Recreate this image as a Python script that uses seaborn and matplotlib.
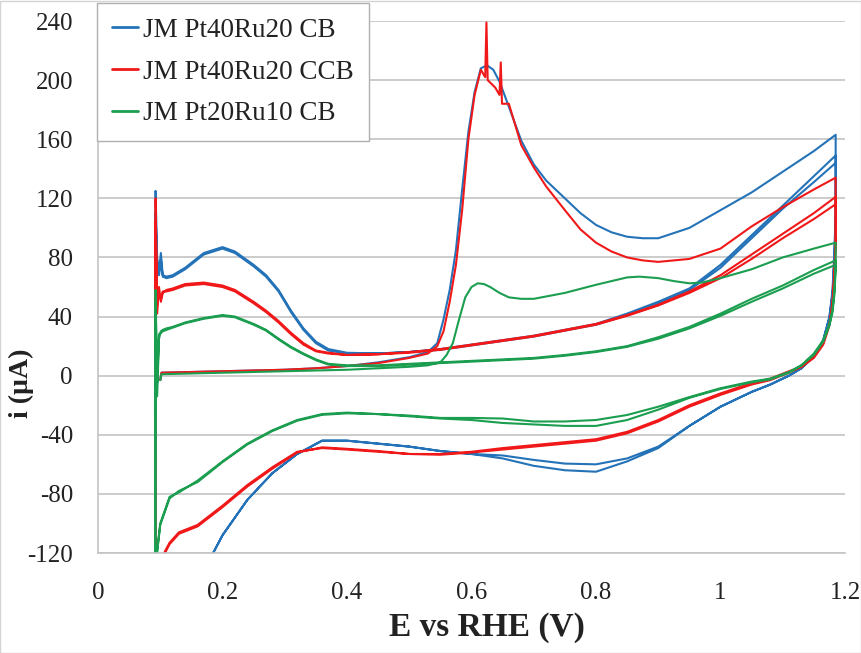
import numpy as np
import pandas as pd
import matplotlib
matplotlib.use("Agg")
import matplotlib.pyplot as plt
import seaborn as sns
from matplotlib.patches import Rectangle

# ---------------- data ----------------
series_names = ["JM Pt40Ru20 CB", "JM Pt40Ru20 CCB", "JM Pt20Ru10 CB"]
series_colors = ["#2473b8", "#f01818", "#1c9e50"]

# first anodic scan (CO stripping)
blue_co_E = [0.1, 0.102, 0.15, 0.2, 0.25, 0.3, 0.35, 0.4, 0.45, 0.5, 0.53, 0.545, 0.555, 0.565, 0.575,
             0.585, 0.595, 0.605, 0.615, 0.625, 0.635, 0.645, 0.66, 0.68, 0.7, 0.72, 0.75, 0.775, 0.8,
             0.825, 0.85, 0.875, 0.9, 0.95, 1.0, 1.05, 1.1, 1.15, 1.185]
blue_co_i = [-3, 2, 2.5, 3, 3.5, 4, 5, 6.5, 9, 12.5, 16, 22, 38, 58, 85, 126, 165, 192, 208, 210, 207,
             199, 182, 159, 143, 132, 120, 110, 102, 97, 94, 93, 93, 100, 112, 124, 138, 152, 163]

red_co_E = [0.1, 0.102, 0.15, 0.2, 0.25, 0.3, 0.35, 0.4, 0.45, 0.5, 0.53, 0.545, 0.555, 0.565, 0.575,
            0.585, 0.595, 0.605, 0.615, 0.622, 0.624, 0.626, 0.638, 0.645, 0.647, 0.649, 0.66, 0.68,
            0.7, 0.72, 0.75, 0.775, 0.8, 0.825, 0.85, 0.875, 0.9, 0.95, 1.0, 1.05, 1.1, 1.15, 1.185]
red_co_i = [-3, 2, 2.5, 3, 3.5, 4, 5, 6.5, 8.5, 12, 15, 20, 30, 50, 75, 112, 160, 190, 207, 202, 239,
            200, 195, 190, 212, 184, 184, 156, 141, 128, 112, 99, 90, 84, 80, 78, 77, 79, 86, 101, 114,
            126, 134]

green_co_E = [0.1, 0.102, 0.15, 0.2, 0.3, 0.4, 0.45, 0.5, 0.53, 0.55, 0.56, 0.57, 0.58, 0.59, 0.6,
              0.61, 0.62, 0.63, 0.645, 0.66, 0.68, 0.7, 0.75, 0.8, 0.85, 0.87, 0.9, 0.925, 0.95, 0.97,
              1.0, 1.05, 1.1, 1.15, 1.185]
green_co_i = [-3, 1, 1.5, 2, 3, 4, 5, 6, 7, 9, 14, 22, 38, 53, 60, 62.5, 62, 60, 56, 53, 52, 52, 56,
              61.5, 66.5, 67, 66, 64, 62.5, 63, 66, 72, 80, 86, 90]

# cathodic (reverse) scans
rev_E = [1.185, 1.183, 1.18, 1.175, 1.165, 1.15, 1.13, 1.11, 1.08, 1.05, 1.0, 0.95, 0.9, 0.85, 0.8,
         0.75, 0.7, 0.65, 0.6, 0.55, 0.5, 0.45, 0.4, 0.36, 0.32, 0.28, 0.24, 0.2, 0.16, 0.13, 0.115,
         0.1, 0.092]
blue_rev1_i = [110, 85, 58, 40, 24, 13, 5, 0, -6, -11, -21, -34, -49, -58, -65, -64, -61, -56, -53,
               -51, -48, -46, -44, -44, -53, -66, -84, -108, -140, -160, -170, -180, -185]
blue_rev2_i = [105, 80, 55, 39, 24, 13, 5, 0, -6, -11, -21, -34, -48, -56, -60, -59.5, -57, -54, -53,
               -51, -48, -46, -44, -44, -53, -66, -84, -108, -140, -160, -170, -180, -185]
red_rev1_i = [90, 70, 50, 35, 22, 13, 6, 3, -2, -5, -12, -20, -30, -38, -43, -45, -47, -49, -51.5,
              -53, -53, -51.5, -50, -49, -51.5, -62, -74, -88, -101, -106, -113, -125, -130]
red_rev2_i = [88, 68, 48, 34, 21, 12, 6, 2, -3, -6, -13, -21, -31, -39, -44, -46, -48, -50, -52,
              -53.5, -53, -51, -49.5, -48.5, -52, -63, -75, -89, -102, -107, -114, -126, -130]
green_rev1_i = [75, 58, 45, 35, 24, 15, 7, 2.5, -2, -4, -8.5, -14.5, -21, -26.6, -30, -31, -31, -29,
                -28.6, -28.6, -27, -26, -25, -26, -30, -37, -46, -58, -71, -79, -82, -100, -130]
green_rev2_i = [72, 55, 43, 34, 23, 14, 7, 2, -2.5, -4.5, -9, -15, -23, -30, -34, -34, -33, -32, -30,
                -29, -27.5, -26, -25.5, -26.5, -30.5, -37.5, -46.5, -58.5, -72, -78, -83, -101, -130]

# later anodic scans (CO-free surface)
fwd_E = [0.092, 0.0925, 0.095, 0.098, 0.101, 0.104, 0.11, 0.12, 0.14, 0.17, 0.2, 0.22, 0.25, 0.27,
         0.29, 0.31, 0.33, 0.35, 0.37, 0.4, 0.45, 0.5, 0.55, 0.6, 0.65, 0.7, 0.75, 0.8, 0.85, 0.9, 0.95,
         1.0, 1.05, 1.1, 1.15, 1.185]
blue_fwd2_i = [-185, 125, 80, 70, 83, 68, 67, 68, 73, 83, 87, 84, 75, 68, 58, 44, 32, 23, 18, 15.5,
               15, 16, 18, 21, 24, 27, 31, 35, 42, 50, 59, 75, 95, 115, 135, 149]
blue_fwd3_i = [-185, 110, 75, 68, 78, 67, 66, 67, 72, 82, 86, 83, 74, 67, 57, 43, 31, 22, 17, 15, 15,
               16, 17.5, 20.5, 23.5, 26.5, 30.5, 34.5, 41, 49, 58, 73, 93, 113, 131, 144]
red_fwd2_i = [-130, 120, 42, 60, 50, 56, 58, 59, 62, 63, 61, 58, 50, 44, 37, 29, 22, 17, 15.5, 14,
              14.5, 16, 18, 21, 24, 27, 31, 35, 41, 48, 57, 68, 82, 96, 110, 121]
red_fwd3_i = [-130, 105, 48, 55, 52, 57, 57, 58, 61, 62, 60, 57, 49, 43, 36, 28, 21, 16.5, 15, 14,
              14.5, 15.5, 17.5, 20.5, 23.5, 26.5, 30.5, 34.5, 40.5, 47.5, 56, 66, 79, 93, 106, 116]
green_fwd2_i = [-130, 58, -14, 25, 30, 31, 32, 33, 36, 39, 41, 40, 35, 31, 25, 19.5, 15, 11, 8, 7, 7,
                8, 9, 10, 11, 12, 14, 16.5, 20, 26, 33, 42, 52, 61, 71.5, 78]
green_fwd3_i = [-130, 50, -5, 28, 29, 30, 31, 32.5, 35.5, 38.5, 40.5, 39.5, 34.5, 30.5, 24.5, 19,
                14.5, 10.5, 7.5, 6.5, 6.5, 7.5, 8.5, 9.5, 10.5, 11.5, 13.5, 16, 19.5, 25, 32, 40.5, 50,
                59, 69, 75]

x_ticks = [0, 0.2, 0.4, 0.6, 0.8, 1.0, 1.2]
x_tick_labels = ["0", "0.2", "0.4", "0.6", "0.8", "1", "1.2"]
y_ticks = [-120, -80, -40, 0, 40, 80, 120, 160, 200, 240]

# ---------------- build table ----------------
def series_frame(name, co_E, co_i, rev1, fwd2, rev2, fwd3):
    E = list(co_E) + rev_E + fwd_E + rev_E + fwd_E
    I = list(co_i) + rev1 + fwd2 + rev2 + fwd3
    return pd.DataFrame({"E": E, "i": I, "series": name})

df = pd.concat([
    series_frame(series_names[0], blue_co_E, blue_co_i, blue_rev1_i, blue_fwd2_i, blue_rev2_i, blue_fwd3_i),
    series_frame(series_names[1], red_co_E, red_co_i, red_rev1_i, red_fwd2_i, red_rev2_i, red_fwd3_i),
    series_frame(series_names[2], green_co_E, green_co_i, green_rev1_i, green_fwd2_i, green_rev2_i, green_fwd3_i),
], ignore_index=True)

# ---------------- figure ----------------
sns.set_theme(style="white")
plt.rcParams["font.family"] = ["Liberation Serif", "DejaVu Serif"]

W, H = 862, 653
fig = plt.figure(figsize=(W / 100, H / 100), dpi=100)
fig.patch.set_facecolor("white")
fig.add_artist(Rectangle((0.5 / W, 0.5 / H), 1 - 1.5 / W, 1 - 1.5 / H, transform=fig.transFigure,
                         fill=False, edgecolor="#d4d4d4", linewidth=1.0))

ax = fig.add_axes([98 / W, 1 - 553 / H, 747 / W, 532 / H])
sns.lineplot(data=df, x="E", y="i", hue="series", palette=series_colors, estimator=None, sort=False,
             linewidth=1.5, ax=ax)

ax.set_xlim(0, 1.2)
ax.set_ylim(-120, 240)
ax.set_xticks(x_ticks)
ax.set_xticklabels(x_tick_labels)
ax.set_yticks(y_ticks)
ax.set_yticklabels([str(v) for v in y_ticks])
ax.tick_params(axis="both", length=0, labelsize=18, colors="#222222")
ax.tick_params(axis="x", pad=21)
ax.tick_params(axis="y", pad=18)

ax.grid(axis="y", color="#c4c4c4", linewidth=1.2)
ax.grid(axis="x", visible=False)
ax.set_axisbelow(True)
for s in ["top", "right"]:
    ax.spines[s].set_visible(False)
for s in ["left", "bottom"]:
    ax.spines[s].set_color("#c4c4c4")
    ax.spines[s].set_linewidth(1.2)

ax.set_xlabel("E vs RHE (V)", fontsize=24, fontweight="bold", color="#222222")
ax.set_ylabel("i (µA)", fontsize=20, fontweight="bold", color="#222222")
ax.xaxis.set_label_coords(0.52, -0.11)
ax.yaxis.set_label_coords(-0.086, 0.32)

handles, labels = ax.get_legend_handles_labels()
leg = ax.legend(handles, labels, loc="upper left", bbox_to_anchor=(97 / W, 1 - 3 / H),
                bbox_transform=fig.transFigure, frameon=True, fancybox=False, framealpha=1,
                edgecolor="#b0b0b0", borderaxespad=0, fontsize=19.5, handlelength=0.95,
                handletextpad=0.2, labelspacing=0.62, borderpad=0.55)
leg.get_frame().set_linewidth(1.0)
for t in leg.get_texts():
    t.set_color("#222222")
for h in leg.legend_handles:
    h.set_linewidth(2.0)

fig.savefig("out.png", dpi=100, facecolor="white")
